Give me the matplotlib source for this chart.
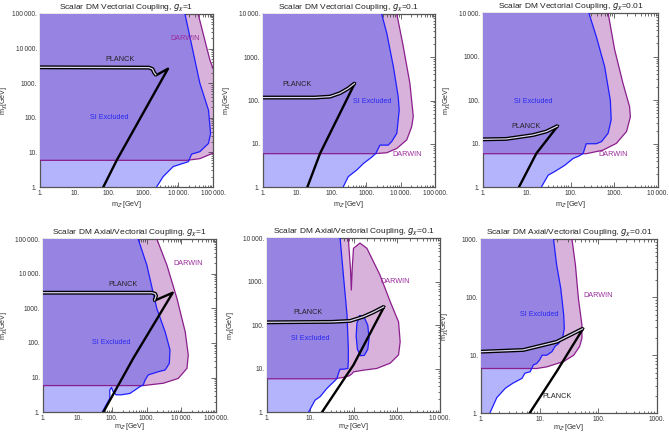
import numpy as np
import matplotlib
matplotlib.use("Agg")
import matplotlib.pyplot as plt
from matplotlib.patches import Polygon
from matplotlib.ticker import LogLocator, NullFormatter

plt.rcParams['font.family'] = ['Liberation Sans', 'DejaVu Sans']
plt.rcParams['mathtext.fontset'] = 'dejavusans'

# ---- data (GeV) ----
# horizontal DARWIN threshold in m_chi
darwin_floor = 5.9

titles = ["Scalar DM Vectorial Coupling, $g_\\chi$=1",
          "Scalar DM Vectorial Coupling, $g_\\chi$=0.1",
          "Scalar DM Vectorial Coupling, $g_\\chi$=0.01",
          "Scalar DM Axial/Vectorial Coupling, $g_\\chi$=1",
          "Scalar DM Axial/Vectorial Coupling, $g_\\chi$=0.1",
          "Scalar DM Axial/Vectorial Coupling, $g_\\chi$=0.01"]
xmax = [1e5, 1e5, 1e4, 1e5, 1e4, 1e3]
ymax = [1e5, 1e4, 1e4, 1e5, 1e4, 1e3]

# SI excluded boundary, top -> bottom
si_mz = [
    [15500, 41700, 74100, 85100, 74100, 41700, 24000, 19500, 7080, 3630, 2340],
    [2820, 3980, 6170, 8510, 9120, 7760, 5500, 4370, 2510, 1910, 1450, 832, 525, 302, 214],
    [263, 389, 603, 813, 851, 724, 513, 389, 229, 195, 155, 115, 74, 43.6, 30.9, 21.4],
    [562, 1000, 1950, 3390, 4680, 4470, 3390, 2140, 1100, 891, 794, 631, 457, 324, 186,
     129, 107, 95.5, 85.1, 85.1, 66.1, 51.3],
    [49, 60.3, 70.8, 75.9, 75.9, 74.1, 60.3, 49, 44.7, 41.7, 34.7, 24, 17, 12.9, 9.1],
    [17.2, 19.5, 22.9, 25.7, 26.3, 24.5, 20.9, 18.2, 16.2, 13.2, 11, 10, 8.9, 7.8, 6.9,
     5.6, 5.0, 3.5, 2.6, 1.86, 1.41],
]
si_mchi = [
    [1e5, 1000, 166, 35.5, 18.2, 10.5, 8.9, 5.4, 3.9, 2.0, 1],
    [1e4, 3550, 603, 123, 60, 17.4, 11.2, 9.3, 9.3, 6.0, 4.9, 3.5, 2.45, 1.74, 1],
    [1e4, 2880, 589, 100, 35.5, 17.4, 11.2, 10, 10, 6.0, 5.2, 4.6, 3.2, 2.3, 1.9, 1],
    [1e5, 17800, 977, 209, 63, 25.7, 16.6, 14.8, 12.0, 8.5, 6.2, 5.5, 4.4, 3.5, 3.2,
     3.2, 3.9, 5.2, 4.4, 2.5, 1.6, 1],
    [1e4, 1000, 174, 29.5, 14.5, 10.2, 9.8, 9.8, 7.8, 6.0, 5.0, 3.5, 2.3, 1.9, 1],
    [1000, 355, 141, 49, 28.8, 19.5, 15.8, 14.1, 11.5, 10, 10, 8.3, 7.2, 6.8, 5.2,
     4.9, 4.0, 3.3, 2.7, 1.86, 1],
]

# SI excluded island (axial/vectorial g=0.1)
island_mz = [138, 174, 214, 229, 214, 178, 145, 123, 115, 120]
island_mchi = [166, 158, 100, 50, 28.2, 20.4, 20, 28.2, 56.2, 112]

# DARWIN boundary, top -> bottom (ends on the floor line)
dw_mz = [
    [37200, 81300, 112000, 112000, 100000, 41700, 17400],
    [7760, 11500, 18600, 23400, 20900, 15100, 7760, 3980, 1820],
    [724, 1020, 1580, 2240, 2340, 1910, 1120, 550, 229],
    [1950, 3800, 7410, 12900, 15800, 14500, 8130, 3020, 794],
    [75.9, 85.1, 89.1, 93.3, 100, 141, 204, 407, 708, 1100, 1200, 1100, 708, 347, 170,
     100, 91.2, 79.4, 56.2, 35.5],
    [35.5, 40.7, 45.7, 52.5, 52.5, 47.9, 38, 25.7, 13.2, 8.9],
]
dw_mchi = [
    [1e5, 4680, 2000, 12.6, 9.5, 6.6, 5.9],
    [1e4, 2090, 251, 42.7, 24.5, 12.3, 7.8, 6.2, 5.9],
    [1e4, 1450, 245, 70.8, 41.7, 19.1, 10.2, 7.1, 5.9],
    [1e5, 17800, 1950, 209, 44.7, 18.6, 9.5, 6.9, 5.9],
    [1e4, 2000, 646, 2000, 5890, 7760, 5890, 1450, 347, 120, 41.7, 20.9, 13.5, 10.2, 9.3,
     8.5, 7.6, 6.9, 6.3, 5.9],
    [1000, 355, 95.5, 33.1, 19.5, 14.1, 10, 7.8, 6.3, 5.9],
]

# PLANCK relic curve: double-line band, then single branch from band end down
band_mz = [
    [1, 1410, 1780, 2000, 2290],
    [1, 31.6, 89.1, 174, 302, 468],
    [1, 3.4, 13.8, 28.2, 51.3],
    [1, 1410, 1740, 1860, 1660],
    [1, 31.6, 83.2, 170, 288, 513],
    [1, 5.25, 19.5, 55],
]
band_mchi = [
    [2880, 2820, 2570, 2000, 1700],
    [117, 117, 123, 148, 191, 251],
    [12.6, 12.9, 15.8, 19.1, 25.7],
    [2820, 2820, 2630, 2290, 1660],
    [117, 120, 126, 158, 200, 269],
    [11.5, 12.3, 17, 28.8],
]
branch_mz = [
    [2290, 5010, 166, 67.6],
    [468, 45.7, 19.5],
    [51.3, 16.6, 6.6],
    [1660, 5620, 407, 55],
    [513, 100, 18.6],
    [55, 19.5, 6.7],
]
branch_mchi = [
    [1700, 2630, 6.0, 1],
    [251, 6.0, 1],
    [25.7, 6.0, 1],
    [1660, 2820, 36.3, 1],
    [269, 12.3, 1],
    [28.8, 5.25, 1],
]

# ---- styling ----
c_over = '#9683E2'
c_si = '#B4B4FC'
c_dw = '#D8B2DA'
c_siline = '#1E1EFF'
c_dwline = '#8A1E8C'

# axes rectangles in pixels (left, top, right, bottom)
rects = [(40, 14, 213, 187), (263, 14, 435, 187), (483, 13, 658, 187.3),
         (43, 239, 216, 412.3), (267, 238.3, 440, 412.3), (481, 239, 657, 413.3)]

# label positions (mz, mchi) for PLANCK, SI Excluded, DARWIN
lab_pos = [
    [(200, 5000), (100, 100), (15500, 20000)],
    [(9.5, 230), (1450, 93), (15000, 5.5)],
    [(9.8, 24.5), (13.8, 95), (930, 5.75)],
    [(210, 5000), (95, 100), (15800, 20000)],
    [(9.1, 200), (10, 49), (910, 1000)],
    [(20, 1.95), (10, 50), (100, 105)],
]


def tick_text(v):
    s = str(int(round(v)))
    if len(s) >= 5:
        s = s[:-3] + '\u2009' + s[-3:]
    return s + '.'


fig = plt.figure(figsize=(6.69, 4.33), dpi=100)
W, H = 669, 433

for i in range(6):
    l, t, r, b = rects[i]
    ax = fig.add_axes([l / W, 1 - b / H, (r - l) / W, (b - t) / H])
    ax.set_xscale('log')
    ax.set_yscale('log')
    ax.set_xlim(1, xmax[i])
    ax.set_ylim(1, ymax[i])

    lo = 0.5
    # DARWIN region
    dw_pts = [(lo, dw_mchi[i][0] * 1.5)] + list(zip(dw_mz[i], dw_mchi[i])) + [(lo, darwin_floor)]
    dw_patch = Polygon(dw_pts, closed=True, facecolor=c_dw, edgecolor='none', zorder=1)
    ax.add_patch(dw_patch)

    # SI region
    si_pts = [(lo, si_mchi[i][0] * 1.5)] + list(zip(si_mz[i], si_mchi[i])) + [(lo, 0.5)]
    si_polys = [si_pts]
    if i == 4:
        si_polys.append(list(zip(island_mz, island_mchi)))
    for pts in si_polys:
        ax.add_patch(Polygon(pts, closed=True, facecolor=c_si, edgecolor='none', zorder=2))
        ov = Polygon(pts, closed=True, facecolor=c_over, edgecolor='none', zorder=3)
        ax.add_patch(ov)
        ov.set_clip_path(dw_patch)

    # boundary lines
    ax.plot(list(dw_mz[i]) + [lo], list(dw_mchi[i]) + [darwin_floor],
            color=c_dwline, lw=0.9, zorder=4)
    ax.plot(si_mz[i], si_mchi[i], color=c_siline, lw=0.9, zorder=5)
    if i == 4:
        ax.plot(island_mz + island_mz[:1], island_mchi + island_mchi[:1],
                color=c_siline, lw=0.9, zorder=5)

    # PLANCK
    ax.plot(band_mz[i], band_mchi[i], color='black', lw=2.8, zorder=6,
            solid_capstyle='butt', solid_joinstyle='round')
    ax.plot(band_mz[i], band_mchi[i], color='#DCD6F2', lw=0.9, zorder=7,
            solid_capstyle='butt')
    ax.plot(branch_mz[i], branch_mchi[i], color='black', lw=1.7, zorder=6,
            solid_joinstyle='round')

    # labels
    (px, py), (sx, sy), (dx, dy) = lab_pos[i]
    ax.text(px, py, 'PLANCK', fontsize=5.2, color='#222222', ha='center', va='center', zorder=8)
    ax.text(sx, sy, 'SI Excluded', fontsize=5.2, color='#2A2AF0', ha='center', va='center', zorder=8)
    ax.text(dx, dy, 'DARWIN', fontsize=5.2, color='#9A2A9C', ha='center', va='center', zorder=8)

    # ticks
    xt = [10.0 ** k for k in range(int(np.log10(xmax[i])) + 1)]
    yt = [10.0 ** k for k in range(int(np.log10(ymax[i])) + 1)]
    ax.set_xticks(xt, [tick_text(v) for v in xt])
    ax.set_yticks(yt, [tick_text(v) for v in yt])
    ax.xaxis.set_minor_locator(LogLocator(base=10, subs=np.arange(2, 10)))
    ax.yaxis.set_minor_locator(LogLocator(base=10, subs=np.arange(2, 10)))
    ax.xaxis.set_minor_formatter(NullFormatter())
    ax.yaxis.set_minor_formatter(NullFormatter())
    ax.tick_params(which='both', direction='in', top=True, right=True,
                   labelsize=4.7, colors='#333333', width=0.5, pad=2)
    ax.tick_params(which='major', length=3.5)
    ax.tick_params(which='minor', length=1.8)
    for sp in ax.spines.values():
        sp.set_color('#555555')
        sp.set_linewidth(0.9)

    wpx, hpx = r - l, b - t
    ax.set_xlabel("m$_{Z'}$[GeV]", fontsize=5.2, color='#333333')
    ax.set_ylabel("m$_\\chi$[GeV]", fontsize=5.2, color='#333333')
    ax.xaxis.set_label_coords(0.5, -(12 if i < 3 else 9) / hpx)
    ax.yaxis.set_label_coords(-(l - 10 if i % 3 == 0 else 30) / wpx, 0.5)
    ax.set_title(titles[i], fontsize=6.0, color='#222222', pad=3)

fig.savefig('out.png', dpi=100)
